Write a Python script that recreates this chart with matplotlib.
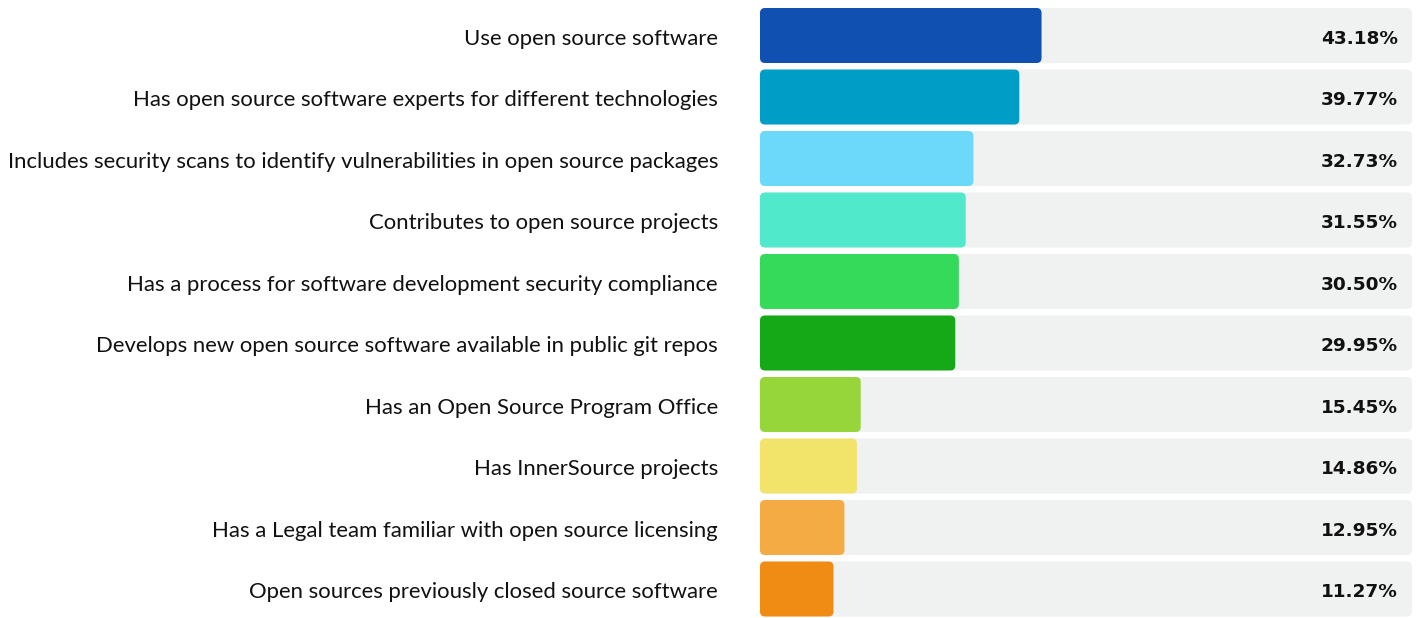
import matplotlib
matplotlib.use("Agg")
import matplotlib.pyplot as plt
from matplotlib.patches import FancyBboxPatch

categories = [
    "Use open source software",
    "Has open source software experts for different technologies",
    "Includes security scans to identify vulnerabilities in open source packages",
    "Contributes to open source projects",
    "Has a process for software development security compliance",
    "Develops new open source software available in public git repos",
    "Has an Open Source Program Office",
    "Has InnerSource projects",
    "Has a Legal team familiar with open source licensing",
    "Open sources previously closed source software",
]
values = [43.18, 39.77, 32.73, 31.55, 30.50, 29.95, 15.45, 14.86, 12.95, 11.27]
value_labels = ["43.18%", "39.77%", "32.73%", "31.55%", "30.50%", "29.95%",
                "15.45%", "14.86%", "12.95%", "11.27%"]
colors = ["#1050B1", "#009DC7", "#6DD9FA", "#50E9CB", "#35DA5A",
          "#15A917", "#96D63B", "#F2E36A", "#F5AB44", "#F08C13"]
track_color = "#F0F1F1"

W, H = 1418, 618
fig = plt.figure(figsize=(W / 100, H / 100), dpi=100)
ax_left, ax_w = 760, 652
ax = fig.add_axes([ax_left / W, 0, ax_w / W, 1])
row_px = 61.5
first_center = 35.5
ax.set_xlim(0, 100)
ax.set_ylim((H - first_center) / row_px, -first_center / row_px)
ax.axis("off")

bar_h = 55 / row_px
px_x = 100 / ax_w
aspect = (1 / row_px) / px_x
r = 5 * px_x
dy = 3 / row_px

for i, (cat, v, lab, c) in enumerate(zip(categories, values, value_labels, colors)):
    y0 = i - bar_h / 2
    ax.add_patch(FancyBboxPatch((0, y0), 100, bar_h,
                                boxstyle=f"round,pad=0,rounding_size={r}",
                                mutation_aspect=aspect, fc=track_color, ec="none"))
    ax.add_patch(FancyBboxPatch((0, y0), v, bar_h,
                                boxstyle=f"round,pad=0,rounding_size={r}",
                                mutation_aspect=aspect, fc=c, ec="none"))
    ax.text(-42 * px_x, i + dy, cat, ha="right", va="center", fontsize=15.9,
            family="Lato", color="#111111", clip_on=False)
    ax.text(100 - 14 * px_x, i + dy, lab, ha="right", va="center", fontsize=13.3,
            family="DejaVu Sans", fontweight="bold", color="#111111")

fig.savefig("out.png", dpi=100)
